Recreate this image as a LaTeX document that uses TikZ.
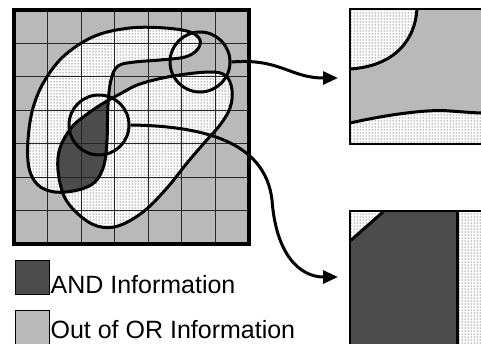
\documentclass[tikz,border=0pt]{standalone}
\usepackage{fontspec}
\usepackage{tikz}
\usetikzlibrary{arrows.meta,patterns,positioning,calc}
\newfontfamily\legendfont{Liberation Sans}

\tikzset{
  outor/.style={fill=gray!55},
  inor/.style={fill=white, postaction={pattern=dots, pattern color=black}},
  andinfo/.style={fill=black!70},
  curve/.style={line width=3pt},
  gridline/.style={line width=1.1pt, black!85},
  lens/.style={circle, draw, line width=3pt, minimum size=60pt, inner sep=0pt},
  link/.style={line width=3pt, -{Triangle[length=15pt,width=13pt]}},
  keybox/.style={draw, line width=0.8pt, minimum size=34pt, inner sep=0pt},
  keytext/.style={anchor=base west, inner sep=0pt, font=\legendfont\fontsize{25}{30}\selectfont}
}

% the two regions
\def\blobA{plot[smooth cycle, tension=0.6] coordinates {(108,105) (107,140) (104,165) (95,182) (78,190) (55,192) (38,185) (29,168) (28,140) (33,108) (45,80) (65,55) (95,36) (130,28) (165,28) (190,32) (200,40) (197,50) (185,57) (160,60) (135,62) (118,66) (111,80)}}
\def\blobB{plot[smooth cycle, tension=0.6] coordinates {(72,127) (90,112) (107,101) (120,94) (140,84) (173,76) (210,72) (226,76) (232,90) (230,108) (220,125) (205,142) (187,163) (167,188) (143,212) (118,226) (97,226) (78,214) (64,196) (58,170) (60,148)}}

\begin{document}
\begin{tikzpicture}[x=1pt, y=-1pt]
\useasboundingbox (0,0) rectangle (481,343);

% map
\fill[outor] (14,10) rectangle (249,244);
\fill[inor] \blobA;
\fill[inor] \blobB;
\begin{scope}
  \clip \blobA;
  \fill[andinfo] \blobB;
\end{scope}
\foreach \i in {1,...,6} {
  \draw[gridline] ({14+\i*33.57},10) -- ({14+\i*33.57},244);
  \draw[gridline] (14,{10+\i*33.43}) -- (249,{10+\i*33.43});
}
\draw[curve] \blobA;
\draw[curve] \blobB;
\draw[line width=3.2pt] (14,10) rectangle (249,244);

\node[lens] (zoomA) at (200,62) {};
\node[lens] (zoomB) at (99,125) {};

% enlarged views
\fill[outor] (350,9) rectangle (484,144);
\fill[inor] (350,9) -- (417,9) .. controls (415,40) and (395,66) .. (350,69) -- cycle;
\fill[inor] (350,123) .. controls (390,114) and (430,109) .. (450,111) .. controls (465,112) and (475,113) .. (484,113) -- (484,144) -- (350,144) -- cycle;
\draw[curve] (417,9) .. controls (415,40) and (395,66) .. (350,69);
\draw[curve] (350,123) .. controls (390,114) and (430,109) .. (450,111) .. controls (465,112) and (475,113) .. (484,113);
\draw[line width=2.6pt] (350,9) rectangle (484,144);

\fill[inor] (350,211) rectangle (484,346);
\fill[andinfo] (350,241) -- (383,212) -- (457,212) -- (457,346) -- (350,346) -- cycle;
\draw[curve] (350,241) -- (383,212);
\draw[curve] (457,212) -- (457,346);
\draw[line width=2.6pt] (350,211) rectangle (484,346);

\coordinate (tipA) at (338,78);
\coordinate (tipB) at (338,277);
\draw[link] (zoomA.east) .. controls (280,58) and (290,78) .. (tipA);
\draw[link] (zoomB.east) .. controls (200,126) and (265,140) .. (272,200) .. controls (276,255) and (300,277) .. (tipB);

% legend
\node[keybox, andinfo] (andkey) at (32,277) {};
\node[keybox, outor] (outkey) at (32,327) {};
\node[keytext] (andtext) at ($(andkey.south east)+(1,-1)$) {AND Information};
\node[keytext] (outtext) at ($(outkey.south east)+(1,-6)$) {Out of OR Information};
\end{tikzpicture}
\end{document}
